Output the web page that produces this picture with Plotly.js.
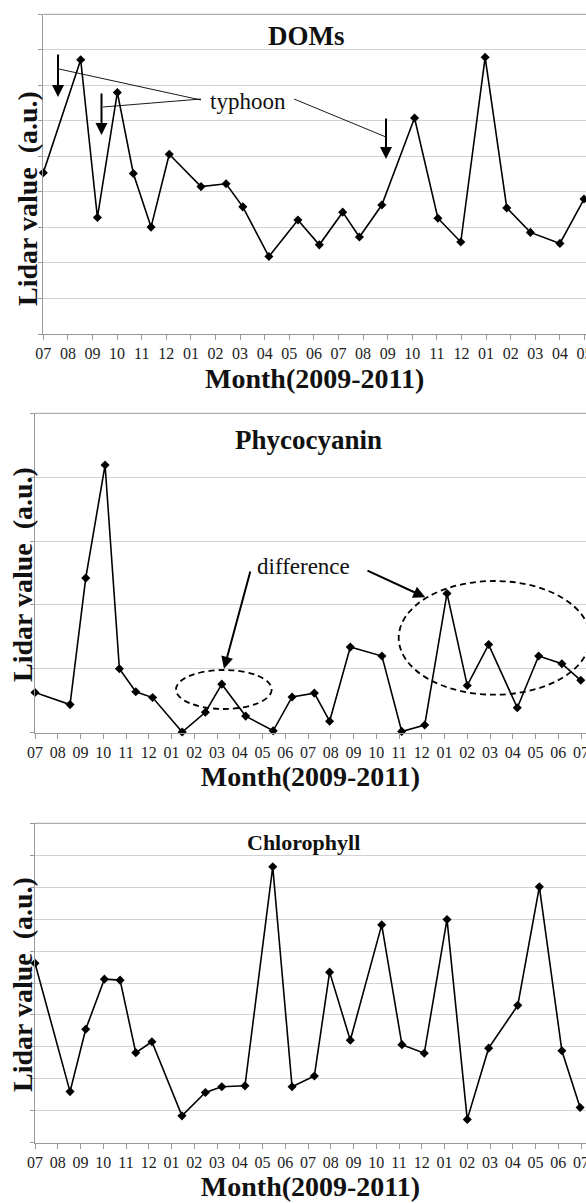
<!DOCTYPE html>
<html><head><meta charset="utf-8">
<script src="https://cdn.plot.ly/plotly-3.0.1.min.js"></script>
<style>html,body{margin:0;padding:0;background:#fff;overflow:hidden}</style>
</head><body><div id="chart" style="width:586px;height:1203px"></div>
<script>
// Tick labels
const monthLabels1 = ['07','08','09','10','11','12','01','02','03','04','05','06','07','08','09','10','11','12','01','02','03','04','05'];
const monthLabels2 = ['07','08','09','10','11','12','01','02','03','04','05','06','07','08','09','10','11','12','01','02','03','04','05','06','07'];

// DOMs (months since 2009-07)
const domsX = [0,1.52,2.20,3.01,3.66,4.38,5.12,6.41,7.43,8.11,9.17,10.35,11.22,12.17,12.85,13.76,15.09,16.04,16.97,17.96,18.84,19.80,21.0,21.98];
const domsY = [4.54,7.72,3.28,6.80,4.52,3.01,5.06,4.15,4.23,3.58,2.18,3.21,2.51,3.43,2.73,3.63,6.08,3.26,2.59,7.79,3.55,2.86,2.55,3.80];

// Phycocyanin
const phycoX = [0,1.54,2.23,3.08,3.71,4.43,5.17,6.47,7.49,8.21,9.26,10.47,11.30,12.28,12.95,13.86,15.25,16.12,17.13,18.11,19.00,19.94,21.20,22.14,23.16,23.99];
const phycoY = [0.63,0.44,2.42,4.19,1.00,0.64,0.55,0.01,0.32,0.76,0.26,0.03,0.56,0.62,0.18,1.34,1.20,0.02,0.12,2.18,0.74,1.38,0.39,1.20,1.08,0.82];

// Chlorophyll
const chlX = [0,1.54,2.23,3.05,3.74,4.43,5.14,6.46,7.49,8.21,9.23,10.45,11.30,12.28,12.95,13.86,15.24,16.13,17.11,18.11,19.00,19.94,21.22,22.17,23.16,23.96];
const chlY = [5.62,1.60,3.55,5.12,5.09,2.82,3.16,0.84,1.57,1.75,1.78,8.64,1.75,2.09,5.34,3.21,6.82,3.07,2.80,6.99,0.73,2.96,4.30,8.01,2.88,1.10];

const W = 586, H = 1203;
const serif = "'Liberation Serif', 'Times New Roman', serif";
const px = v => v / W;
const py = v => (H - v) / H;

function trace(x, y, xa, ya) {
  return {x: x, y: y, xaxis: xa, yaxis: ya, type: 'scatter', mode: 'lines+markers',
    line: {color: '#000', width: 1.6},
    marker: {symbol: 'diamond', size: 7, color: '#000'},
    cliponaxis: false, showlegend: false, hoverinfo: 'skip'};
}

function xax(domStart, labels, anchor, range, standoff) {
  return {domain: [px(domStart), 1], anchor: anchor, range: range,
    tickmode: 'array', tickvals: labels.map((_, i) => i), ticktext: labels,
    ticklabeloverflow: 'allow',
    showgrid: false, zeroline: false, showline: true, linecolor: '#999', linewidth: 1,
    ticks: 'outside', ticklen: 5, tickcolor: '#999', tickwidth: 1,
    tickfont: {family: serif, size: 16, color: '#222'},
    title: {text: '<b>Month(2009-2011)</b>', font: {family: serif, size: 28, color: '#111'}, standoff: standoff}};
}
function yax(top, bottom, anchor, maxv) {
  return {domain: [py(bottom), py(top)], anchor: anchor, range: [0, maxv], dtick: 1, tick0: 0,
    showgrid: true, gridcolor: '#d2d2d2', gridwidth: 1, zeroline: false,
    showline: true, linecolor: '#999', linewidth: 1,
    ticks: 'outside', ticklen: 4, tickcolor: '#999', showticklabels: false};
}

const data = [
  trace(domsX, domsY, 'x', 'y'),
  trace(phycoX, phycoY, 'x2', 'y2'),
  trace(chlX, chlY, 'x3', 'y3')
];

const topLine = (xr, yr) => ({type: 'line', xref: xr + ' domain', yref: yr + ' domain', x0: 0, x1: 1, y0: 1, y1: 1, line: {color: '#999', width: 1}});
const thin = {color: '#000', width: 0.9};
const txt = (x, y, text, size, extra) => Object.assign({xref: 'paper', yref: 'paper', x: px(x), y: py(y), text: text,
  xanchor: 'center', yanchor: 'middle', showarrow: false, font: {family: serif, size: size, color: '#111'}}, extra || {});
const yTitle = (x, y) => txt(x, y, '<b>Lidar value\u00a0\u00a0(a.u.)</b>', 28, {textangle: -90});
const arrow = (x, y, ax, ay) => ({xref: 'paper', yref: 'paper', x: px(x), y: py(y), ax: ax, ay: ay, text: '',
  showarrow: true, arrowhead: 2, arrowsize: 1.2, arrowwidth: 2, arrowcolor: '#000'});

const layout = {
  width: W, height: H, margin: {l: 0, r: 0, t: 0, b: 0},
  paper_bgcolor: '#fff', plot_bgcolor: '#fff',
  xaxis: xax(43.3, monthLabels1, 'y', [0, 22.06], 7),
  yaxis: yax(14.3, 334, 'x', 9),
  xaxis2: xax(35, monthLabels2, 'y2', [0, 24.22], 6),
  yaxis2: yax(413.3, 732.7, 'x2', 5),
  xaxis3: xax(35, monthLabels2, 'y3', [0, 24.22], 3),
  yaxis3: yax(823.3, 1142.7, 'x3', 10),
  shapes: [
    topLine('x', 'y'), topLine('x2', 'y2'), topLine('x3', 'y3'),
    // typhoon leader lines (panel 1)
    {type: 'line', xref: 'paper', yref: 'paper', x0: px(59), y0: py(69), x1: px(201), y1: py(100), line: thin},
    {type: 'line', xref: 'paper', yref: 'paper', x0: px(103), y0: py(107), x1: px(201), y1: py(99), line: thin},
    {type: 'line', xref: 'paper', yref: 'paper', x0: px(294), y0: py(99), x1: px(386), y1: py(137), line: thin},
    // difference ellipses (panel 2)
    {type: 'circle', xref: 'paper', yref: 'paper', x0: px(176), x1: px(271.7), y0: py(709), y1: py(670), line: {color: '#000', width: 1.8, dash: '6px,4px'}},
    {type: 'circle', xref: 'paper', yref: 'paper', x0: px(398.7), x1: px(590), y0: py(694.7), y1: py(581), line: {color: '#000', width: 1.8, dash: '6px,4px'}}
  ],
  annotations: [
    yTitle(28, 199), yTitle(22.5, 574.5), yTitle(22.5, 984.5),
    txt(306, 36, '<b>DOMs</b>', 27),
    txt(308, 440, '<b>Phycocyanin</b>', 27),
    txt(304, 842, '<b>Chlorophyll</b>', 22),
    txt(248, 101, 'typhoon', 23),
    txt(303, 566, 'difference', 23),
    // typhoon arrows
    arrow(58, 97, 0, -44), arrow(101.5, 135, 0, -43), arrow(386, 159, 0, -42),
    // difference arrows
    arrow(224, 668.7, 26.7, -98.7), arrow(425.3, 597.3, -59.3, -27.3)
  ]
};

Plotly.newPlot('chart', data, layout, {staticPlot: true, displayModeBar: false});
</script>
</body></html>
